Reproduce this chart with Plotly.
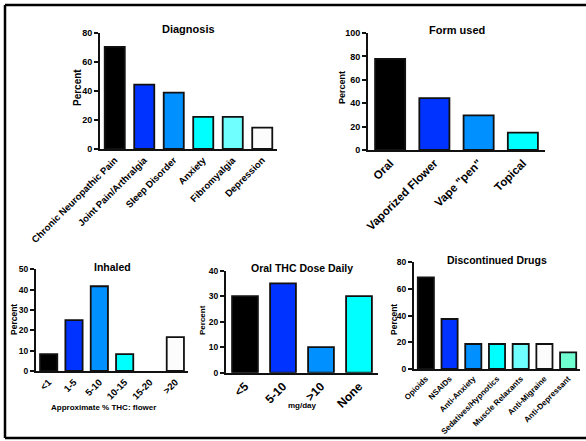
import plotly.graph_objects as go

# ---------------- data ----------------
diag_cats = ["Chronic Neuropathic Pain", "Joint Pain/Arthralgia", "Sleep Disorder",
             "Anxiety", "Fibromyalgia", "Depression"]
diag_vals = [70.4, 44.4, 38.9, 22.2, 22.2, 14.8]

form_cats = ["Oral", "Vaporized Flower", "Vape \"pen\"", "Topical"]
form_vals = [77.8, 44.4, 29.6, 14.8]

inh_cats = ["<1", "1-5", "5-10", "10-15", "15-20", ">20"]
inh_vals = [8.33, 25.0, 41.67, 8.33, 0, 16.67]

oral_cats = ["<5", "5-10", ">10", "None"]
oral_vals = [30, 35, 10, 30]

disc_cats = ["Opioids", "NSAIDs", "Anti-Anxiety", "Sedatives/Hypnotics",
             "Muscle Relaxants", "Anti-Migraine", "Anti-Depressant"]
disc_vals = [68.75, 37.5, 18.75, 18.75, 18.75, 18.75, 12.5]

palette = ["#000000", "#0033FF", "#0090FF", "#00FFFF", "#70FFFF", "#FCFCFC", "#70FFD0"]

W, H = 586, 441
FONT = "Liberation Sans, Arial, sans-serif"


def px(x):
    return x / W


def py(y):
    return 1 - y / H


fig = go.Figure()

panels = [
    dict(c=diag_cats, v=diag_vals, x=(100, 277), y=(149, 33), r=80, dt=20, xf=9.5, yf=9),
    dict(c=form_cats, v=form_vals, x=(368, 545), y=(150, 33), r=100, dt=20, xf=11.5, yf=9),
    dict(c=inh_cats, v=inh_vals, x=(36, 188), y=(371, 269.3), r=50, dt=10, xf=9.5, yf=8.5),
    dict(c=oral_cats, v=oral_vals, x=(226, 378), y=(372.7, 270.7), r=40, dt=10, xf=12, yf=8.5),
    dict(c=disc_cats, v=disc_vals, x=(414, 580), y=(369, 262.3), r=80, dt=20, xf=8, yf=8.5),
]

for i, p in enumerate(panels):
    n = i + 1
    xa = "x" if n == 1 else f"x{n}"
    ya = "y" if n == 1 else f"y{n}"
    lw = [1.8 if v > 0 else 0 for v in p["v"]]
    fig.add_trace(go.Bar(
        x=p["c"], y=p["v"], xaxis=xa, yaxis=ya,
        marker=dict(color=palette[:len(p["c"])], line=dict(color="#111111", width=lw)),
        width=0.68, showlegend=False, hoverinfo="x+y",
    ))
    xkey = "xaxis" if n == 1 else f"xaxis{n}"
    ykey = "yaxis" if n == 1 else f"yaxis{n}"
    fig.layout[xkey] = dict(
        domain=[px(p["x"][0]), px(p["x"][1])], anchor=ya,
        range=[-0.5, len(p["c"]) - 0.5], type="category",
        showline=True, linecolor="#111111", linewidth=2, ticks="",
        showgrid=False, zeroline=False, tickangle=-45, automargin=False,
        tickfont=dict(family=FONT, size=p["xf"], color="black", weight="bold"),
        fixedrange=True,
    )
    fig.layout[ykey] = dict(
        domain=[py(p["y"][0]), py(p["y"][1])], anchor=xa,
        range=[0, p["r"]], dtick=p["dt"], tick0=0,
        showline=True, linecolor="#111111", linewidth=2,
        ticks="outside", ticklen=4, tickwidth=1.5, tickcolor="#111111",
        showgrid=False, zeroline=False, automargin=False,
        tickfont=dict(family=FONT, size=p["yf"], color="black", weight="bold"),
        fixedrange=True,
    )

ann = []


def add_text(text, x, y, size, angle=0):
    ann.append(dict(text=f"<b>{text}</b>", x=px(x), y=py(y), xref="paper", yref="paper",
                    showarrow=False, textangle=angle, xanchor="center", yanchor="middle",
                    font=dict(family=FONT, size=size, color="black")))


# titles
add_text("Diagnosis", 188, 29, 11)
add_text("Form used", 457, 30, 11)
add_text("Inhaled", 112, 267, 10.5)
add_text("Oral THC Dose Daily", 302, 268, 10.5)
add_text("Discontinued Drugs", 497, 260, 10.5)
# y titles
add_text("Percent", 77, 88, 10, -90)
add_text("Percent", 342, 88, 9, -90)
add_text("Percent", 14, 320, 8.5, -90)
add_text("Percent", 202, 320, 8, -90)
add_text("Percent", 394, 320, 8.5, -90)
# x titles
add_text("Approximate % THC: flower", 103, 407, 8)
add_text("mg/day", 302, 405, 8)

border = dict(color="black", width=2.5)
shapes = [
    dict(type="line", xref="paper", yref="paper", x0=px(5), x1=1, y0=py(5), y1=py(5), line=border),
    dict(type="line", xref="paper", yref="paper", x0=px(5), x1=1, y0=py(438), y1=py(438), line=border),
    dict(type="line", xref="paper", yref="paper", x0=px(5), x1=px(5), y0=py(438), y1=py(5), line=border),
]

fig.update_layout(
    width=W, height=H,
    margin=dict(l=0, r=0, t=0, b=0, autoexpand=False),
    paper_bgcolor="white", plot_bgcolor="white",
    annotations=ann,
    bargap=0.3,
    shapes=shapes,
)

fig.write_html(
    "out.html",
    config={"displayModeBar": False},
    post_script="document.body.style.margin='0';document.body.style.overflow='hidden';",
)
